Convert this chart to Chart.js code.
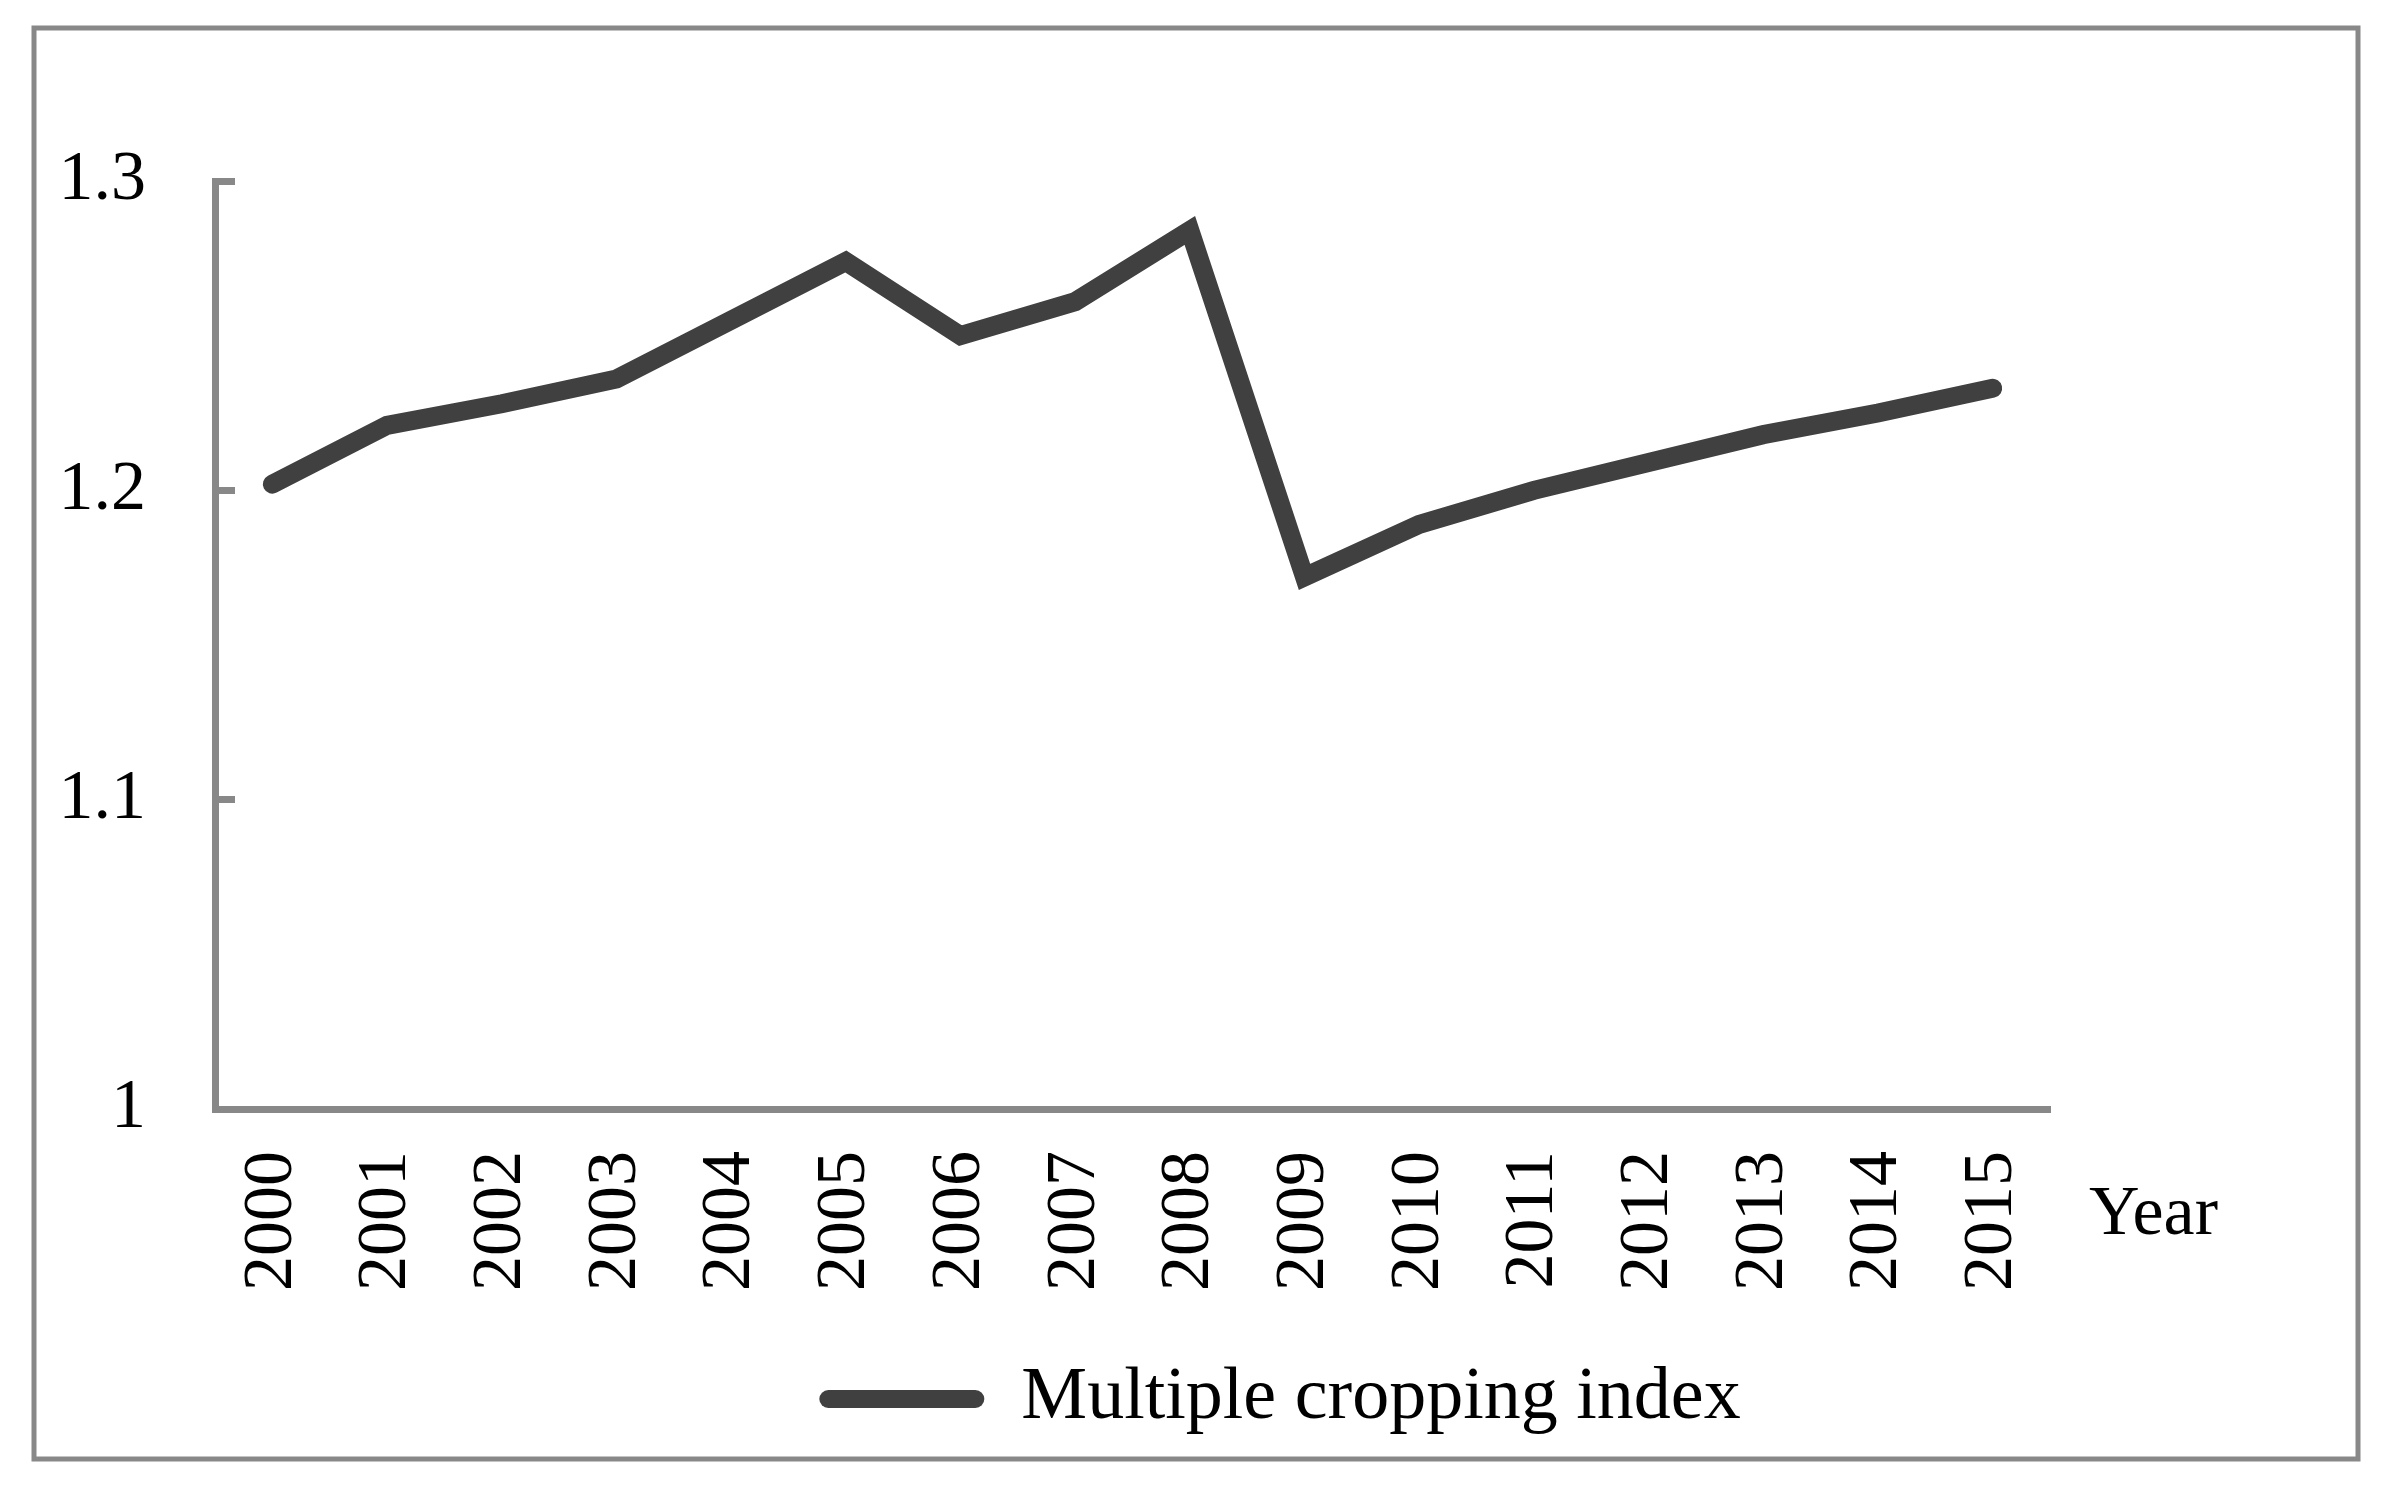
<!DOCTYPE html>
<html>
<head>
<meta charset="utf-8">
<script src="https://cdn.jsdelivr.net/npm/chart.js@4/dist/chart.umd.min.js"></script>
<style>
  html, body { margin: 0; padding: 0; background: #fff; }
  #wrap { width: 2389px; height: 1490px; }
</style>
</head>
<body>
<div id="wrap"><canvas id="mci-chart"></canvas></div>
<script>
// --data
var years = ['2000', '2001', '2002', '2003', '2004', '2005', '2006', '2007',
  '2008', '2009', '2010', '2011', '2012', '2013', '2014', '2015'];
var cropIndex = [1.202, 1.221, 1.228, 1.236, 1.255, 1.274, 1.250, 1.261,
  1.284, 1.172, 1.189, 1.200, 1.209, 1.218, 1.225, 1.233];
var yTicks = [1, 1.1, 1.2, 1.3];
var seriesName = 'Multiple cropping index';
var xTitle = 'Year';

var serif = '"Liberation Serif", "DejaVu Serif", serif';
var axisGrey = '#888888';

// frame round the figure + the "Year" label right of the axis
var framePlugin = {
  id: 'frame',
  afterLayout: function(chart) {
    // legend in the original sits a bit right of the canvas centre
    if(chart.legend) chart.legend.left += 171;
  },
  afterDraw: function(chart) {
    var ctx = chart.ctx;
    var xs = chart.scales.x;
    ctx.save();
    ctx.strokeStyle = axisGrey;
    ctx.lineWidth = 5;
    ctx.strokeRect(34, 28, 2324, 1431);
    ctx.fillStyle = '#000';
    ctx.font = '70px ' + serif;
    ctx.textAlign = 'left';
    ctx.textBaseline = 'middle';
    ctx.fillText(xTitle, xs.right + 39, xs.top + 107);
    ctx.restore();
  }
};

var el = document.getElementById('mci-chart');
if(el) {
  new Chart(el, {
    type: 'line',
    data: {
      labels: years,
      datasets: [{
        label: seriesName,
        data: cropIndex,
        borderColor: '#404040',
        backgroundColor: '#404040',
        borderWidth: 19,
        borderCapStyle: 'round',
        borderJoinStyle: 'miter',
        pointRadius: 0,
        tension: 0,
        fill: false
      }]
    },
    options: {
      responsive: true,
      maintainAspectRatio: false,
      animation: false,
      devicePixelRatio: 1,
      layout: { padding: { left: 0, right: 0, top: 181, bottom: 44 } },
      plugins: {
        tooltip: { enabled: false },
        legend: {
          position: 'bottom',
          labels: {
            color: '#000',
            font: { family: serif, size: 74 },
            boxWidth: 165,
            boxHeight: 18,
            padding: 10,
            useBorderRadius: true,
            borderRadius: 9,
            generateLabels: function(chart) {
              var items = Chart.defaults.plugins.legend.labels.generateLabels(chart);
              items.forEach(function(it) {
                it.lineWidth = 0;
                it.fillStyle = '#404040';
                it.strokeStyle = '#404040';
              });
              return items;
            }
          }
        }
      },
      scales: {
        x: {
          type: 'category',
          offset: true,
          grid: { display: false, drawTicks: false },
          border: { display: true, color: axisGrey, width: 7 },
          ticks: {
            color: '#000',
            font: { family: serif, size: 70 },
            minRotation: 90,
            maxRotation: 90,
            autoSkip: false,
            padding: 42
          },
          afterFit: function(s) { s.height = 243; }
        },
        y: {
          min: 1,
          max: 1.3,
          grid: {
            drawOnChartArea: false,
            color: axisGrey,
            lineWidth: 7,
            tickLength: -20
          },
          border: { display: true, color: axisGrey, width: 7 },
          ticks: {
            color: '#000',
            font: { family: serif, size: 70 },
            padding: 89,
            callback: function(v) { return String(Math.round(v * 10) / 10); }
          },
          afterBuildTicks: function(s) {
            s.ticks = yTicks.map(function(v) { return { value: v }; });
          },
          afterFit: function(s) { s.width = 215; }
        },
        // empty right-hand axis that only keeps the gap where "Year" sits
        spacer: {
          type: 'linear',
          position: 'right',
          grid: { display: false },
          border: { display: false },
          ticks: { display: false },
          afterFit: function(s) { s.width = 339; }
        }
      }
    },
    plugins: [framePlugin]
  });
}
</script>
</body>
</html>
